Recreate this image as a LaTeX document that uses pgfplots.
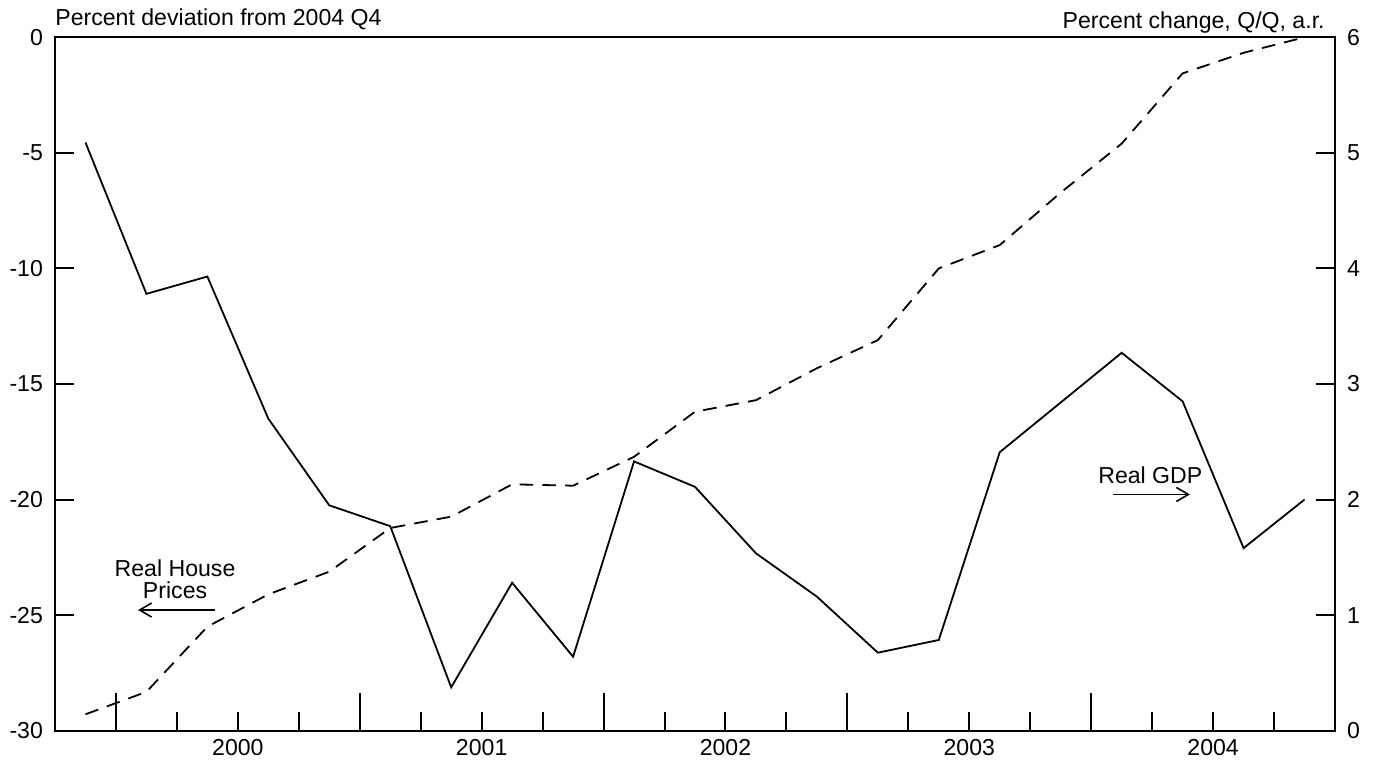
\documentclass[border=0pt]{standalone}
\usepackage{pgfplots}
\pgfplotsset{compat=1.18}
\usepackage{pgfplotstable}
\usepackage{fontspec}
\setmainfont{Liberation Sans}
\usetikzlibrary{arrows.meta}

\pgfplotstableread{
idx hp gdp
0 -29.29 5.09
1 -28.32 3.78
2 -25.5 3.93
3 -24.1 2.70
4 -23.12 1.95
5 -21.23 1.77
6 -20.74 0.375
7 -19.34 1.28
8 -19.40 0.64
9 -18.15 2.33
10 -16.2 2.11
11 -15.7 1.535
12 -14.32 1.16
13 -13.1 0.675
14 -10.0 0.785
15 -8.99 2.41
16 -6.72 2.84
17 -4.6 3.27
18 -1.56 2.85
19 -0.67 1.58
20 0 2.00
}\data

\newcommand{\lbl}{\fontsize{11.55}{11}\selectfont}

\begin{document}
\begin{tikzpicture}
\pgfplotsset{
  common/.style={
    scale only axis, width=640pt, height=346.7pt,
    xmin=-0.5, xmax=20.5,
    axis line style={line width=1pt, black},
    tick style={line width=1pt, black},
    tick align=inside,
    major tick length=9.5pt, minor tick length=9.5pt,
    ticklabel style={font=\lbl},
    /pgf/number format/assume math mode=true,
    clip=false,
  }
}
\begin{axis}[common,
  ymin=-30, ymax=0,
  xtick pos=bottom, ytick pos=left,
  ytick={-30,-25,-20,-15,-10,-5,0},
  xtick={2.5,6.5,10.5,14.5,18.5},
  xticklabels={2000,2001,2002,2003,2004},
  minor xtick={1.5,3.5,5.5,7.5,9.5,11.5,13.5,15.5,17.5,19.5},
  extra x ticks={0.5,4.5,8.5,12.5,16.5},
  extra x tick labels={},
  extra x tick style={major tick length=19pt},
  yticklabel style={xshift=-2.5pt},
  xticklabel style={yshift=-1pt},
]
\addplot[black, line width=0.9pt, dash pattern=on 6.8pt off 4.6pt] table[x=idx,y=hp]{\data};
\coordinate (ll) at (rel axis cs:0,0);
\coordinate (ur) at (rel axis cs:1,1);
\node[anchor=base west, inner sep=0pt, font=\lbl] at ([yshift=6.1pt]rel axis cs:0,1) {Percent deviation from 2004 Q4};
\node[anchor=base east, inner sep=0pt, font=\lbl] at ([xshift=-5pt,yshift=4.6pt]rel axis cs:1,1) {Percent change, Q/Q, a.r.};
\node[align=center, inner sep=0pt, font=\lbl] at (axis cs:1.47,-23.44) {Real House\\Prices};
\draw[-{Straight Barb[length=6pt,width=7pt]}, line width=0.8pt] (axis cs:2.125,-24.78) -- (axis cs:0.862,-24.78);
\node[inner sep=0pt, font=\lbl] at (axis cs:17.47,-18.94) {Real GDP};
\draw[-{Straight Barb[length=6pt,width=7pt]}, line width=0.8pt] (axis cs:16.86,-19.78) -- (axis cs:18.12,-19.78);
\end{axis}
\begin{axis}[common,
  ymin=0, ymax=6,
  hide x axis,
  axis y line*=right,
  ytick={0,1,2,3,4,5,6},
  yticklabel style={xshift=2.5pt},
]
\addplot[black, line width=0.9pt] table[x=idx,y=gdp]{\data};
\end{axis}
\pgfresetboundingbox
\path ([xshift=-27.5pt,yshift=-16.65pt]ll) rectangle ([xshift=20.5pt,yshift=18.65pt]ur);
\end{tikzpicture}
\end{document}
